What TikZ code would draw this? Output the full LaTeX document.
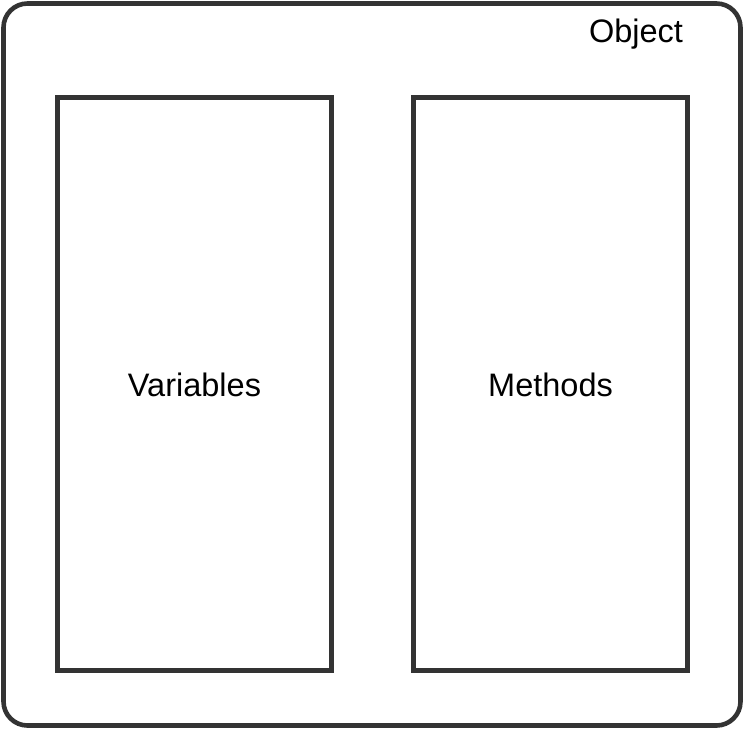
\documentclass[tikz,border=0pt]{standalone}
\usepackage{fontspec}
\setmainfont{Liberation Sans}
\definecolor{edge}{HTML}{333333}
\begin{document}
\begin{tikzpicture}[x=1pt,y=-1pt,
  frame/.style={draw=edge,line width=4.6pt,rounded corners=24pt},
  part/.style={draw=edge,line width=4.6pt},
  lbl/.style={font=\fontsize{32.5}{38}\selectfont,text=black,inner sep=0pt}]
  \useasboundingbox (0,0) rectangle (743,729);
  % outer object frame
  \draw[frame] (3.5,3.5) rectangle (740.5,725.5);
  % the two compartments
  \draw[part] (57.5,97.5) rectangle (331.5,670.5);
  \draw[part] (413.5,97.5) rectangle (687.5,670.5);
  \node[lbl,anchor=base] (obj) at (636,42) {Object};
  \node[lbl,anchor=base] (vars) at (194.5,396) {Variables};
  \node[lbl,anchor=base] (meth) at (550.5,396) {Methods};
\end{tikzpicture}
\end{document}
